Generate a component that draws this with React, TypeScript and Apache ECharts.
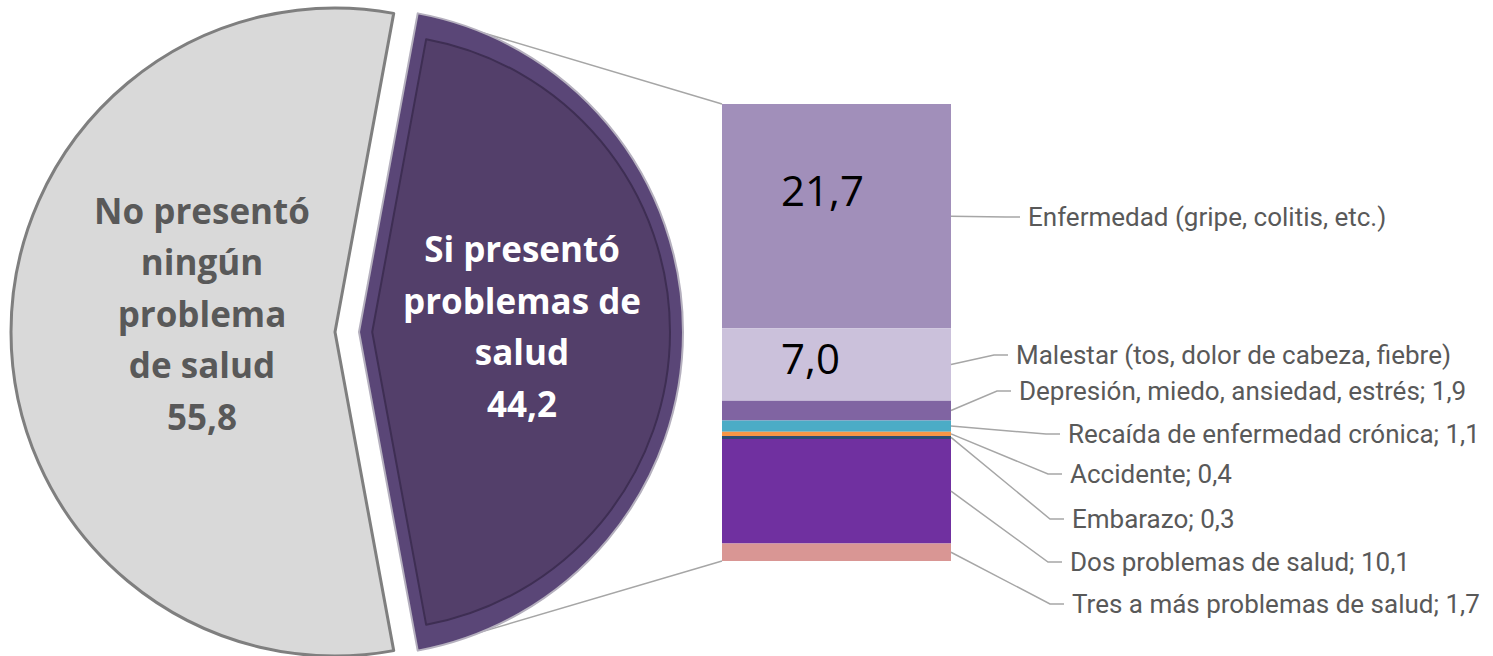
import { useEffect, useRef } from "react";
import * as echarts from "echarts";

// ---- data ----
const pieNames = ["Si presentó problemas de salud", "No presentó ningún problema de salud"];
const pieValues = [44.2, 55.8];
const pieLabelLines = [
  ["Si presentó", "problemas de", "salud"],
  ["No presentó", "ningún", "problema", "de salud"],
];

const barNames = [
  "Enfermedad (gripe, colitis, etc.)",
  "Malestar (tos, dolor de cabeza, fiebre)",
  "Depresión, miedo, ansiedad, estrés",
  "Recaída de enfermedad crónica",
  "Accidente",
  "Embarazo",
  "Dos problemas de salud",
  "Tres a más problemas de salud",
];
const barValues = [21.7, 7.0, 1.9, 1.1, 0.4, 0.3, 10.1, 1.7];
const valueInsideBar = [true, true, false, false, false, false, false, false];

// ---- styles / layout ----
const barColors = ["#A18FBA", "#CBC1DB", "#8064A2", "#4BACC6", "#F79646", "#2C4D75", "#7030A0", "#D99694"];
const insideLabelOffsets: [number, number][] = [[-14, -27], [-26, -7], [0, 0], [0, 0], [0, 0], [0, 0], [0, 0], [0, 0]];
const labelTextX = [1028, 1016, 1019, 1068, 1070, 1072, 1070, 1072];
const labelTextY = [217, 355, 391, 434, 474, 519, 562, 604];

const PIE_C = [335, 332];
const PIE_R = 324;
const EXPLODE = 24;
const BEVEL = 13;
const GRID = { left: 722, top: 104, width: 229, height: 457 };

const fmt = (v: number) => v.toFixed(1).replace(".", ",");

export default function App() {
  const ref = useRef<HTMLDivElement>(null);

  useEffect(() => {
    if (!ref.current) return;
    const chart = echarts.init(ref.current, null, { renderer: "svg" });

    const total = pieValues[0] + pieValues[1];
    const half = (pieValues[0] / total) * 180; // purple slice centered on 0°
    const barTotal = barValues.reduce((a, b) => a + b, 0);

    const pieBase = {
      type: "pie" as const,
      startAngle: half,
      clockwise: true,
      silent: true,
      label: { show: false },
      labelLine: { show: false },
      emphasis: { disabled: true },
      animation: false,
    };
    const none = { color: "rgba(0,0,0,0)", borderWidth: 0 };

    const barSeries = barValues.map((v, i) => ({
      type: "bar" as const,
      name: barNames[i],
      stack: "total",
      barWidth: "100%",
      silent: true,
      itemStyle: { color: barColors[i] },
      label: {
        show: valueInsideBar[i],
        position: "inside",
        offset: insideLabelOffsets[i],
        formatter: () => fmt(v),
        fontFamily: "Open Sans",
        fontSize: 42,
        color: "#000000",
      },
      data: [v],
    }));

    chart.setOption({
      animation: false,
      grid: { ...GRID },
      xAxis: { type: "category", data: ["Si"], show: false },
      yAxis: { type: "value", min: 0, max: barTotal, inverse: true, show: false },
      series: [
        {
          ...pieBase,
          center: PIE_C,
          radius: PIE_R,
          data: [
            { name: pieNames[0], value: pieValues[0], itemStyle: none },
            { name: pieNames[1], value: pieValues[1], itemStyle: { color: "#D9D9D9", borderColor: "#7F7F7F", borderWidth: 3 } },
          ],
        },
        {
          ...pieBase,
          center: [PIE_C[0] + EXPLODE, PIE_C[1]],
          radius: PIE_R,
          data: [
            { name: pieNames[0], value: pieValues[0], itemStyle: { color: "#5A4677", borderColor: "#B5B0BE", borderWidth: 2 } },
            { name: pieNames[1], value: pieValues[1], itemStyle: none },
          ],
        },
        {
          ...pieBase,
          center: [PIE_C[0] + EXPLODE + BEVEL / Math.sin((half * Math.PI) / 180), PIE_C[1]],
          radius: PIE_R - BEVEL - BEVEL / Math.sin((half * Math.PI) / 180),
          data: [
            { name: pieNames[0], value: pieValues[0], itemStyle: { color: "#533F6A", borderColor: "#3E2E53", borderWidth: 2 } },
            { name: pieNames[1], value: pieValues[1], itemStyle: none },
          ],
        },
        ...barSeries,
      ],
    });

    // geometry for annotations
    const rad = (half * Math.PI) / 180;
    const pcx = PIE_C[0] + EXPLODE;
    const topCorner = [pcx + PIE_R * Math.cos(rad), PIE_C[1] - PIE_R * Math.sin(rad)];
    const botCorner = [pcx + PIE_R * Math.cos(rad), PIE_C[1] + PIE_R * Math.sin(rad)];
    const barLeft = GRID.left;
    const barRight = GRID.left + GRID.width;
    const barTop = chart.convertToPixel({ yAxisIndex: 0 }, 0) as number;
    const barBottom = chart.convertToPixel({ yAxisIndex: 0 }, barTotal) as number;

    const graphics: any[] = [
      { type: "line", silent: true, z: 1, shape: { x1: topCorner[0], y1: topCorner[1], x2: barLeft, y2: barTop }, style: { stroke: "#A6A6A6", lineWidth: 1.5 } },
      { type: "line", silent: true, z: 1, shape: { x1: botCorner[0], y1: botCorner[1], x2: barLeft, y2: barBottom }, style: { stroke: "#A6A6A6", lineWidth: 1.5 } },
    ];

    // pie labels
    const pieLabelPos = [
      [522, 326, "#FFFFFF"],
      [202, 313, "#595959"],
    ];
    pieValues.forEach((v, i) => {
      graphics.push({
        type: "text",
        silent: true,
        z: 100,
        x: pieLabelPos[i][0],
        y: pieLabelPos[i][1],
        style: {
          text: [...pieLabelLines[i], fmt(v)].join("\n"),
          fill: pieLabelPos[i][2],
          fontFamily: "Open Sans",
          fontWeight: "bold",
          fontSize: 35,
          lineHeight: 51.5,
          align: "center",
          verticalAlign: "middle",
        },
      });
    });

    // bar leader lines and labels
    let cum = 0;
    barValues.forEach((v, i) => {
      const mid = cum + v / 2;
      cum += v;
      const y0 = chart.convertToPixel({ yAxisIndex: 0 }, mid) as number;
      const tx = labelTextX[i];
      const ty = labelTextY[i];
      graphics.push({
        type: "polyline",
        silent: true,
        z: 100,
        shape: { points: [[barRight, y0], [tx - 22, ty], [tx - 8, ty]] },
        style: { stroke: "#A6A6A6", lineWidth: 1.5, fill: "none" },
      });
      graphics.push({
        type: "text",
        silent: true,
        z: 100,
        x: tx,
        y: ty,
        style: {
          text: valueInsideBar[i] ? barNames[i] : `${barNames[i]}; ${fmt(v)}`,
          fill: "#595959",
          fontFamily: "Roboto",
          fontSize: 26,
          align: "left",
          verticalAlign: "middle",
        },
      });
    });

    chart.setOption({ graphic: graphics });

    return () => chart.dispose();
  }, []);

  return <div ref={ref} style={{ position: "fixed", left: 0, top: 0, width: 1493, height: 656, background: "#FFFFFF" }} />;
}
